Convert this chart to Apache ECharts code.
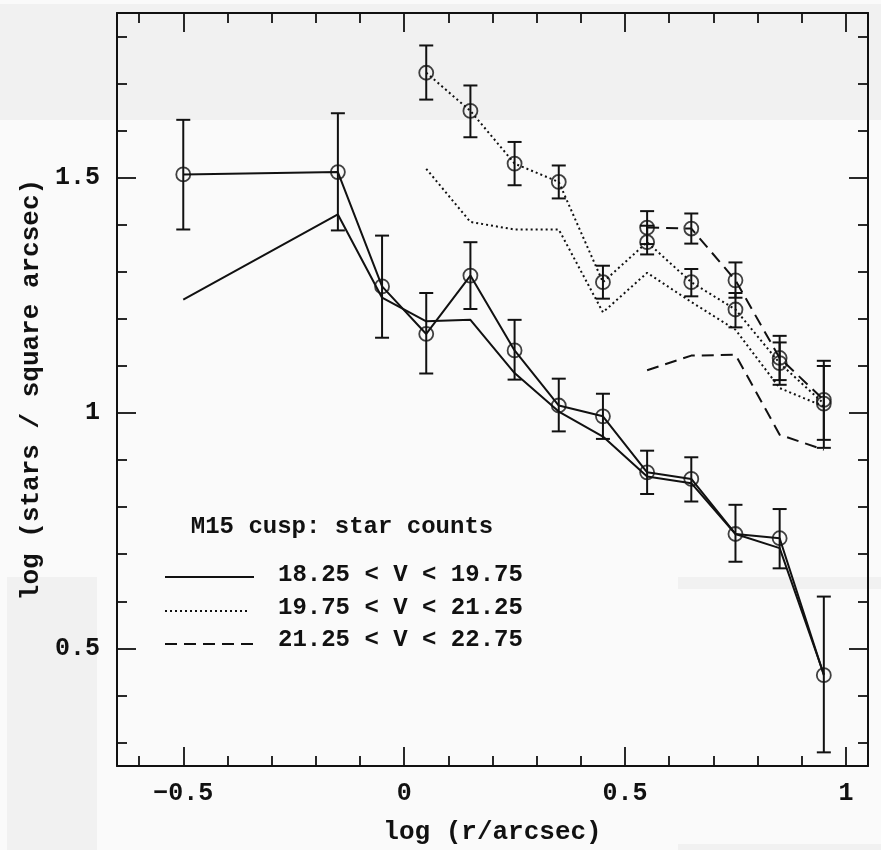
<!DOCTYPE html>
<html><head><meta charset="utf-8">
<script src="https://cdn.jsdelivr.net/npm/echarts@6/dist/echarts.min.js"></script>
<style>html,body{margin:0;padding:0;background:#fafafa}#c{width:881px;height:850px}</style>
</head><body><div id="c"></div><script>
// ---- data ----
const rBright = [-0.5,-0.15,-0.05,0.05,0.15,0.25,0.35,0.45,0.55,0.65,0.75,0.85,0.95];
const yBright = [1.507,1.512,1.269,1.168,1.292,1.133,1.016,0.993,0.874,0.860,0.743,0.734,0.443];
const hiBright = [1.623,1.637,1.377,1.255,1.363,1.198,1.073,1.041,0.920,0.906,0.805,0.796,0.610];
const loBright = [1.390,1.388,1.160,1.084,1.221,1.071,0.961,0.945,0.828,0.812,0.684,0.670,0.279];
const yBrightRef = [1.241,1.422,1.245,1.195,1.198,1.085,1.003,0.950,0.865,0.851,0.743,0.713,0.445];

const rMid = [0.05,0.15,0.25,0.35,0.45,0.55,0.65,0.75,0.85,0.95];
const yMid = [1.723,1.642,1.530,1.491,1.278,1.363,1.278,1.220,1.106,1.020];
const hiMid = [1.781,1.696,1.576,1.526,1.313,1.398,1.306,1.255,1.150,1.100];
const loMid = [1.666,1.586,1.484,1.456,1.243,1.337,1.248,1.182,1.060,0.926];
const yMidRef = [1.519,1.406,1.390,1.390,1.214,1.298,1.236,1.177,1.053,1.014];

const rFaint = [0.55,0.65,0.75,0.85,0.95];
const yFaint = [1.394,1.392,1.282,1.117,1.028];
const hiFaint = [1.429,1.424,1.320,1.164,1.111];
const loFaint = [1.359,1.360,1.245,1.070,0.943];
const yFaintRef = [1.091,1.122,1.124,0.954,0.922];

const seriesNames = ['18.25 < V < 19.75','19.75 < V < 21.25','21.25 < V < 22.75'];
const legendTitle = 'M15 cusp: star counts';
const xMajor = [-0.5,0,0.5,1];
const xMinor = [-0.6,-0.4,-0.3,-0.2,-0.1,0.1,0.2,0.3,0.4,0.6,0.7,0.8,0.9];
const yMajor = [0.5,1,1.5];
const yMinor = [0.3,0.4,0.6,0.7,0.8,0.9,1.1,1.2,1.3,1.4,1.6,1.7,1.8];
const xName = 'log (r/arcsec)';
const yName = 'log (stars / square arcsec)';

// ---- chart ----
const FONT = "'Liberation Mono', 'Courier New', monospace";
const FW = 'bold';
const INK = '#111';
const zip2 = (xs, ys) => xs.map((x, i) => [x, ys[i]]);
const zip3 = (xs, lo, hi) => xs.map((x, i) => [x, lo[i], hi[i]]);

function errRender(params, api) {
  const x = api.value(0), lo = api.value(1), hi = api.value(2);
  const a = api.coord([x, lo]), b = api.coord([x, hi]);
  const w = 7, st = { stroke: INK, lineWidth: 2 };
  return { type: 'group', children: [
    { type: 'line', shape: { x1: a[0], y1: a[1], x2: b[0], y2: b[1] }, style: st },
    { type: 'line', shape: { x1: a[0]-w, y1: a[1], x2: a[0]+w, y2: a[1] }, style: st },
    { type: 'line', shape: { x1: b[0]-w, y1: b[1], x2: b[0]+w, y2: b[1] }, style: st }
  ]};
}

const XMIN = -0.65, XMAX = 1.05, YMIN = 0.25, YMAX = 1.85;
function xAx(pos, ticks, len, showLabel, showLine) {
  return { type: 'value', position: pos, min: XMIN, max: XMAX,
    axisLine: { show: showLine, onZero: false, lineStyle: { color: INK, width: 2 } },
    axisTick: { show: true, inside: true, length: len, customValues: ticks, lineStyle: { color: INK, width: 1.8 } },
    axisLabel: { show: showLabel, customValues: ticks, margin: 15, color: INK, fontFamily: FONT, fontWeight: FW, fontSize: 25,
      formatter: v => String(v).replace('-', '\u2212') },
    splitLine: { show: false } };
}
function yAx(pos, ticks, len, showLabel, showLine) {
  return { type: 'value', position: pos, min: YMIN, max: YMAX,
    axisLine: { show: showLine, onZero: false, lineStyle: { color: INK, width: 2 } },
    axisTick: { show: true, inside: true, length: len, customValues: ticks, lineStyle: { color: INK, width: 1.8 } },
    axisLabel: { show: showLabel, customValues: ticks, margin: 17, color: INK, fontFamily: FONT, fontWeight: FW, fontSize: 25 },
    splitLine: { show: false } };
}

const xAxes = [
  Object.assign(xAx('bottom', xMajor, 19, true, true), { name: xName, nameLocation: 'middle', nameGap: 53,
    nameTextStyle: { color: INK, fontFamily: FONT, fontWeight: FW, fontSize: 26 } }),
  xAx('bottom', xMinor, 10, false, false),
  xAx('top', xMajor, 19, false, true),
  xAx('top', xMinor, 10, false, false)
];
const yAxes = [
  Object.assign(yAx('left', yMajor, 19, true, true), { name: yName, nameLocation: 'middle', nameGap: 66,
    nameTextStyle: { color: INK, fontFamily: FONT, fontWeight: FW, fontSize: 26 } }),
  yAx('left', yMinor, 10, false, false),
  yAx('right', yMajor, 19, false, true),
  yAx('right', yMinor, 10, false, false)
];

function lineS(name, data, type, width) {
  return { name, type: 'line', data, symbol: 'none', z: 3,
    lineStyle: { color: INK, width: width, type: type, cap: 'butt' } };
}
function circS(name, data) {
  return { name, type: 'scatter', data, symbol: 'circle', symbolSize: 14, z: 4,
    itemStyle: { color: 'rgba(0,0,0,0)', borderColor: INK, borderWidth: 1.8 } };
}
function errS(name, data) {
  return { name, type: 'custom', data, renderItem: errRender, z: 3 };
}

const DOT = [2, 3];
const DASH = [12, 7];

const LFONT = "bold 24px 'Liberation Mono', 'Courier New', monospace";
const gray = '#f1f1f1';
const graphic = [
  { type: 'rect', z: -10, shape: { x: 0, y: 4, width: 881, height: 116 }, style: { fill: gray } },
  { type: 'rect', z: -10, shape: { x: 7, y: 577, width: 90, height: 273 }, style: { fill: gray } },
  { type: 'rect', z: -10, shape: { x: 678, y: 577, width: 203, height: 12 }, style: { fill: gray } },
  { type: 'rect', z: -10, shape: { x: 678, y: 844, width: 203, height: 6 }, style: { fill: gray } },
  { type: 'text', x: 342, y: 527, style: { text: legendTitle, fill: INK, font: LFONT, align: 'center', verticalAlign: 'middle' } },
  { type: 'line', shape: { x1: 165, y1: 577, x2: 254, y2: 577 }, style: { stroke: INK, lineWidth: 2 } },
  { type: 'line', shape: { x1: 165, y1: 611, x2: 249, y2: 611 }, style: { stroke: INK, lineWidth: 1.8, lineDash: DOT } },
  { type: 'line', shape: { x1: 165, y1: 644, x2: 254, y2: 644 }, style: { stroke: INK, lineWidth: 2, lineDash: DASH } },
  { type: 'text', x: 278, y: 575, style: { text: seriesNames[0], fill: INK, font: LFONT, verticalAlign: 'middle' } },
  { type: 'text', x: 278, y: 608, style: { text: seriesNames[1], fill: INK, font: LFONT, verticalAlign: 'middle' } },
  { type: 'text', x: 278, y: 640, style: { text: seriesNames[2], fill: INK, font: LFONT, verticalAlign: 'middle' } }
];

const chart = echarts.init(document.getElementById('c'), null, { renderer: 'canvas' });
chart.setOption({
  animation: false,
  backgroundColor: '#fafafa',
  grid: { left: 117, top: 13, width: 751, height: 753 },
  xAxis: xAxes,
  yAxis: yAxes,
  graphic: graphic,
  series: [
    lineS(seriesNames[0], zip2(rBright, yBright), 'solid', 2),
    lineS(seriesNames[0] + ' ref', zip2(rBright, yBrightRef), 'solid', 2),
    errS(seriesNames[0] + ' err', zip3(rBright, loBright, hiBright)),
    circS(seriesNames[0] + ' pts', zip2(rBright, yBright)),
    lineS(seriesNames[1], zip2(rMid, yMid), DOT, 2),
    lineS(seriesNames[1] + ' ref', zip2(rMid, yMidRef), DOT, 2),
    errS(seriesNames[1] + ' err', zip3(rMid, loMid, hiMid)),
    circS(seriesNames[1] + ' pts', zip2(rMid, yMid)),
    lineS(seriesNames[2], zip2(rFaint, yFaint), DASH, 2),
    lineS(seriesNames[2] + ' ref', zip2(rFaint, yFaintRef), DASH, 2),
    errS(seriesNames[2] + ' err', zip3(rFaint, loFaint, hiFaint)),
    circS(seriesNames[2] + ' pts', zip2(rFaint, yFaint))
  ]
});
</script></body></html>
